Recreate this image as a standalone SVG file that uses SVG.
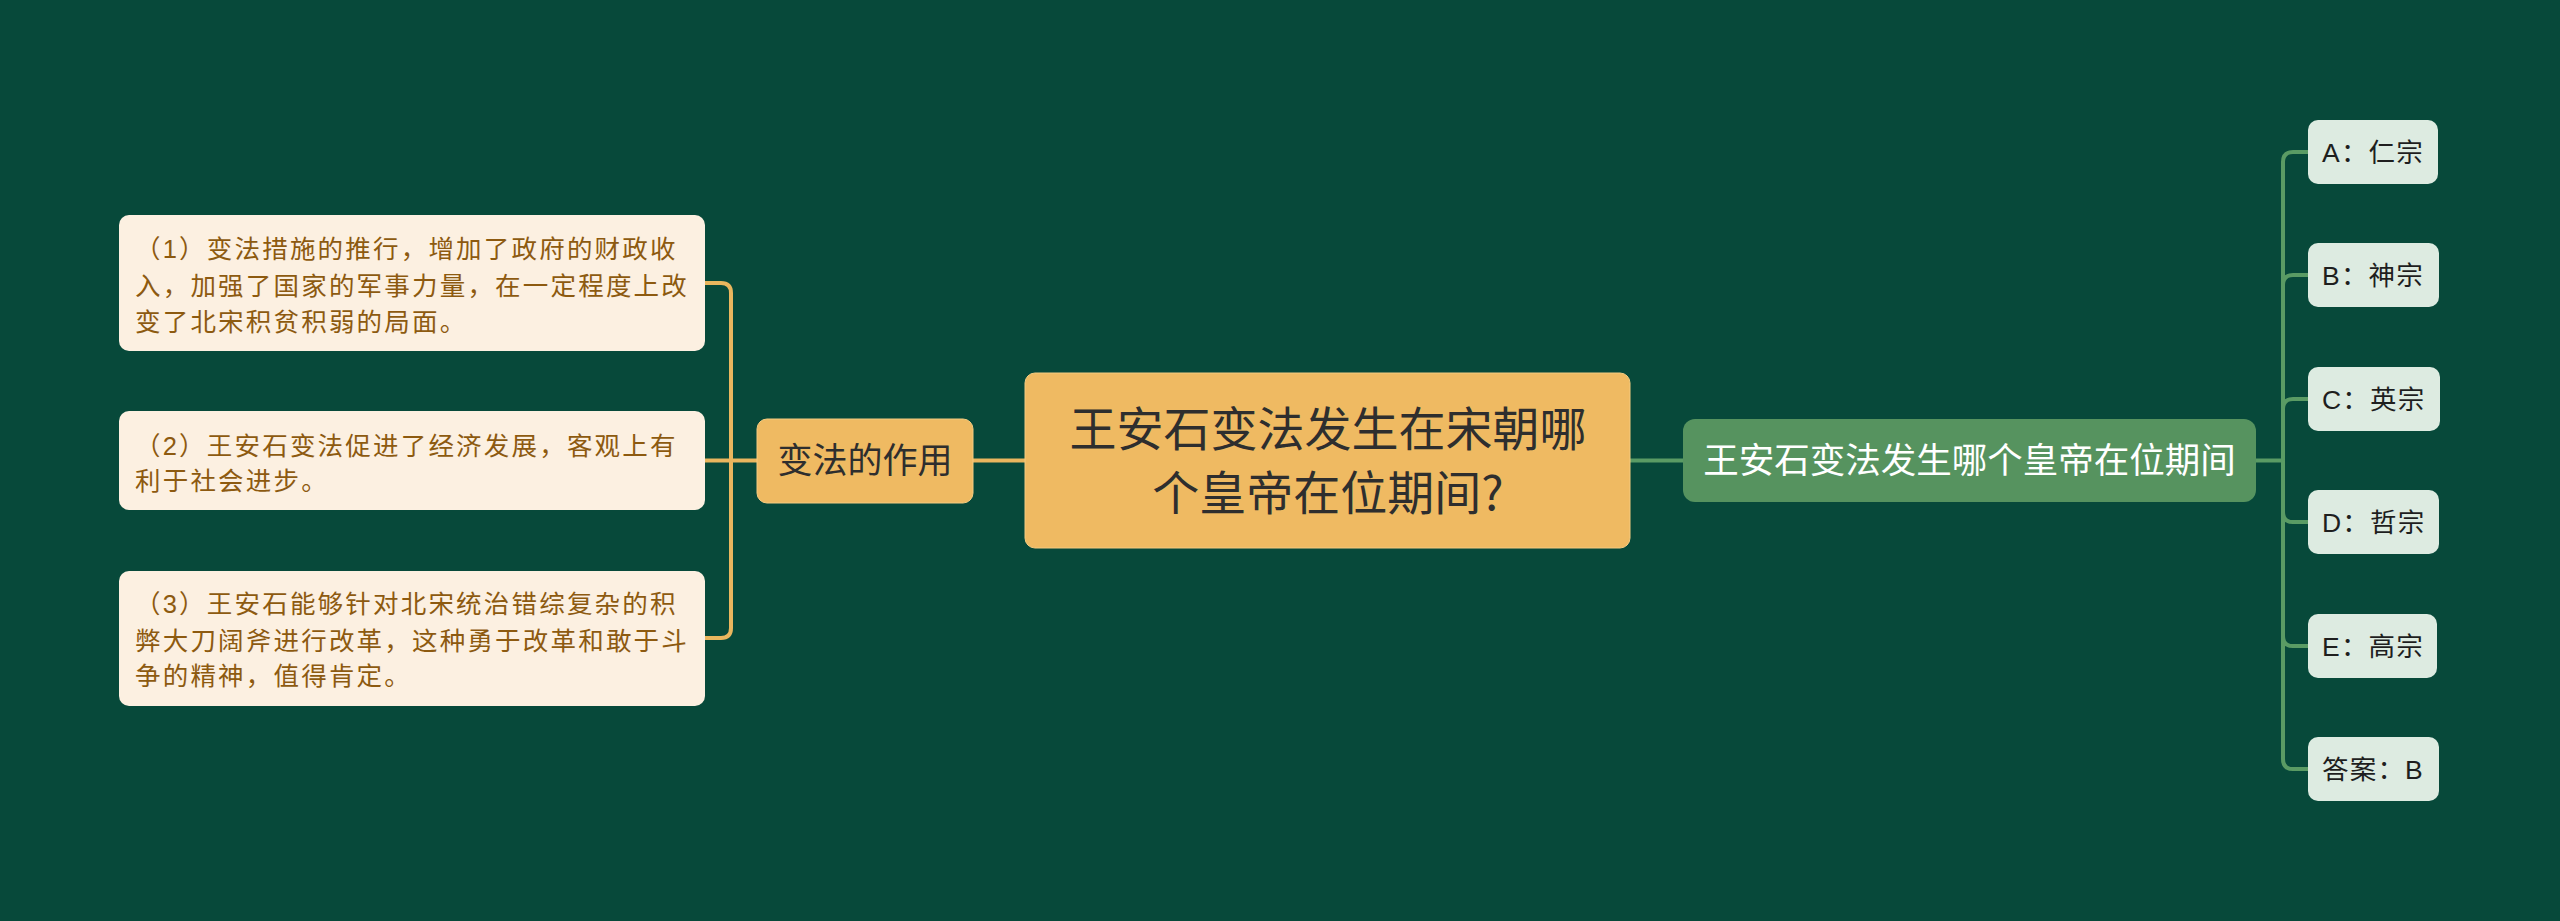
<svg xmlns="http://www.w3.org/2000/svg" width="2560" height="921" viewBox="0 0 2560 921">
<style>
.t{font-family:"Liberation Sans","Noto Sans CJK SC",sans-serif}
.cjk{font-family:"Noto Sans CJK SC",sans-serif}
.leaf rect{fill:#FCF0E1}
.leaf text{fill:#8D5A10;font-size:25.5px;letter-spacing:2.2px}
.opt rect{fill:#DDEBE1}
.opt text{fill:#1E1E1E;font-size:26.5px;letter-spacing:1.2px}
.gold{fill:#EFBA62;stroke:#F4CB80;stroke-width:1}
.lc{fill:none;stroke:#E9B65E;stroke-width:4}
.rc{fill:none;stroke:#5A9B64;stroke-width:4}
</style>
<rect width="2560" height="921" fill="#07493A"/>
<g id="connectors">
<path class="lc" d="M1025 460.5 H973"/>
<path class="lc" d="M757 460.5 H705"/>
<path class="lc" d="M731 460.5 V293 Q731 283 721 283 H705"/>
<path class="lc" d="M731 460.5 V628 Q731 638 721 638 H705"/>
<path class="rc" d="M1630 460.5 H1683"/>
<path class="rc" d="M2256 460.5 H2283"/>
<path class="rc" d="M2283 460.5 V162 Q2283 152 2293 152 H2308"/>
<path class="rc" d="M2283 460.5 V285 Q2283 275 2293 275 H2308"/>
<path class="rc" d="M2283 460.5 V409 Q2283 399 2293 399 H2308"/>
<path class="rc" d="M2283 460.5 V512 Q2283 522 2293 522 H2308"/>
<path class="rc" d="M2283 460.5 V636 Q2283 646 2293 646 H2308"/>
<path class="rc" d="M2283 460.5 V759 Q2283 769 2293 769 H2308"/>
</g>
<g id="root">
<rect class="gold" x="1025" y="373" width="605" height="175" rx="10"/>
<text class="t" x="1328" y="446" font-size="47" fill="#2E2E2E" text-anchor="middle">王安石变法发生在宋朝哪</text>
<text class="t" x="1328" y="510" font-size="47" fill="#2E2E2E" text-anchor="middle">个皇帝在位期间<tspan class="cjk">?</tspan></text>
</g>
<g id="effect">
<rect class="gold" x="757" y="419" width="216" height="84" rx="10"/>
<text class="t" x="865" y="473" font-size="35" fill="#2E2E2E" text-anchor="middle">变法的作用</text>
</g>
<g id="leaf1" class="leaf">
<rect x="119" y="215" width="586" height="136" rx="10"/>
<text class="t" x="135" y="257.5">（1）变法措施的推行，增加了政府的财政收</text>
<text class="t" x="135" y="294.5">入，加强了国家的军事力量，在一定程度上改</text>
<text class="t" x="135" y="330.5">变了北宋积贫积弱的局面。</text>
</g>
<g id="leaf2" class="leaf">
<rect x="119" y="411" width="586" height="99" rx="10"/>
<text class="t" x="135" y="454.5">（2）王安石变法促进了经济发展，客观上有</text>
<text class="t" x="135" y="489.5">利于社会进步。</text>
</g>
<g id="leaf3" class="leaf">
<rect x="119" y="571" width="586" height="135" rx="10"/>
<text class="t" x="135" y="612.5">（3）王安石能够针对北宋统治错综复杂的积</text>
<text class="t" x="135" y="649.5">弊大刀阔斧进行改革，这种勇于改革和敢于斗</text>
<text class="t" x="135" y="684.5">争的精神，值得肯定。</text>
</g>
<g id="question">
<rect x="1683" y="419" width="573" height="83" rx="12" fill="#56935F"/>
<text class="t" x="1969.5" y="473" font-size="35.5" fill="#FFFFFF" text-anchor="middle">王安石变法发生哪个皇帝在位期间</text>
</g>
<g id="optA" class="opt">
<rect x="2308" y="120" width="130" height="64" rx="10"/>
<text class="t" x="2322" y="161.5">A：仁宗</text>
</g>
<g id="optB" class="opt">
<rect x="2308" y="243" width="131" height="64" rx="10"/>
<text class="t" x="2322" y="284.5">B：神宗</text>
</g>
<g id="optC" class="opt">
<rect x="2308" y="367" width="132" height="64" rx="10"/>
<text class="t" x="2322" y="408.5">C：英宗</text>
</g>
<g id="optD" class="opt">
<rect x="2308" y="490" width="131" height="64" rx="10"/>
<text class="t" x="2322" y="531.5">D：哲宗</text>
</g>
<g id="optE" class="opt">
<rect x="2308" y="614" width="129" height="64" rx="10"/>
<text class="t" x="2322" y="655.5">E：高宗</text>
</g>
<g id="answer" class="opt">
<rect x="2308" y="737" width="131" height="64" rx="10"/>
<text class="t" x="2322" y="778.5">答案：B</text>
</g>
</svg>
